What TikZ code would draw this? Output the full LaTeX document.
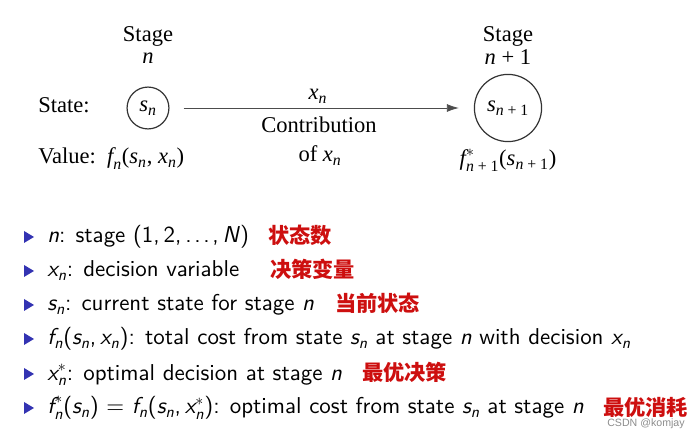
\documentclass[tikz,border=0pt]{standalone}
\usepackage{amsmath}
\usepackage{fontspec}
\newfontfamily\tms{Liberation Serif}
\newfontfamily\lmss{lmsans10-regular}[Extension=.otf, ItalicFont=lmsans10-oblique]
\newfontfamily\cjk{Noto Sans CJK SC}
\newfontfamily\wmk{Liberation Sans}
\usetikzlibrary{arrows.meta}
\definecolor{bulletblue}{RGB}{51,51,178}
\definecolor{inkred}{RGB}{205,15,15}
\newcommand{\vsub}[2]{$\textit{#1}_{\textit{#2}}$}
\newcommand{\vstar}[2]{$\textit{#1}^{*}_{\textit{#2}}$}
\tikzset{
  toptext/.style={font=\tms\fontsize{17}{20}\selectfont, inner sep=0pt},
  statecirc/.style={draw=black!80, circle, line width=0.9pt, inner sep=0pt, font=\tms\fontsize{17}{20}\selectfont},
  itemtext/.style={anchor=base west, inner sep=0pt, font=\lmss\fontsize{17.3}{20}\selectfont},
  note/.style={anchor=base west, inner sep=0pt, text=inkred, font=\cjk\bfseries\fontsize{16}{18}\selectfont}
}
\begin{document}
\begin{tikzpicture}[x=0.0265cm, y=-0.0265cm]
\useasboundingbox (0,0) rectangle (696,439);

\node[toptext, anchor=base] (stageL) at (148,42) {Stage};
\node[toptext, anchor=base] (stageLn) at (148,64) {\textit{n}};
\node[toptext, anchor=base west] (stateLbl) at (38,113) {State:};
\node[statecirc, minimum size=1.11cm] (sn) at (148,108) {\vsub{s}{n}};
\node[toptext, anchor=base west] (valueL) at (38,164) {Value:\, $\textit{f}_{\textit{n}}$(\vsub{s}{n}, \vsub{x}{n})};

\node[toptext, anchor=base] (stageR) at (508,42) {Stage};
\node[toptext, anchor=base] (stageRn) at (508,65) {\textit{n} + 1};
\node[statecirc, minimum size=1.78cm] (snp) at (508,108) {$\textit{s}_{\textit{n}\text{ + 1}}$};
\node[toptext, anchor=base] (valueR) at (508,166) {$\textit{f}^{*}_{\textit{n}\text{ + 1}}$($\textit{s}_{\textit{n}\text{ + 1}}$)};

\draw[-{Latex[length=9pt,width=6pt]}, black!70, line width=0.6pt, shorten <=14*0.0265cm, shorten >=15*0.0265cm] (sn) -- (snp);
\node[toptext, anchor=base] (xn) at (318,100) {\vsub{x}{n}};
\node[toptext, anchor=base] (contrib) at (319,133) {Contribution};
\node[toptext, anchor=base] (ofxn) at (320,162) {of \vsub{x}{n}};

\foreach \y in {237,271,305,339,374,408}
  \fill[bulletblue] (24,\y-6) -- (34,\y) -- (24,\y+6) -- cycle;

\node[itemtext] (i1) at (47,243) {\textit{n}: stage (1,\,2,\,.\kern2pt.\kern2pt.\kern2pt,\,\textit{N})};
\node[itemtext] (i2) at (47,277) {\vsub{x}{n}: decision variable};
\node[itemtext] (i3) at (47,311) {\vsub{s}{n}: current state for stage \textit{n}};
\node[itemtext] (i4) at (47,345) {$\textit{f}_{\textit{n}}$(\vsub{s}{n},\,\vsub{x}{n}): total cost from state \vsub{s}{n} at stage \textit{n} with decision \vsub{x}{n}};
\node[itemtext] (i5) at (47,380) {\vstar{x}{n}: optimal decision at stage \textit{n}};
\node[itemtext] (i6) at (47,414) {\vstar{f}{n}(\vsub{s}{n}) = $\textit{f}_{\textit{n}}$(\vsub{s}{n},\,\vstar{x}{n}): optimal cost from state \vsub{s}{n} at stage \textit{n}};

\node[note] (n1) at (268,244) {状态数};
\node[note] (n2) at (270,278) {决策变量};
\node[note] (n3) at (335,312) {当前状态};
\node[note] (n5) at (362,381) {最优决策};
\node[note] (n6) at (603,415) {最优消耗};

\node[font=\wmk\fontsize{8}{9}\selectfont, text=black!45, anchor=base] (mark) at (646,426) {CSDN @komjay};
\end{tikzpicture}
\end{document}
